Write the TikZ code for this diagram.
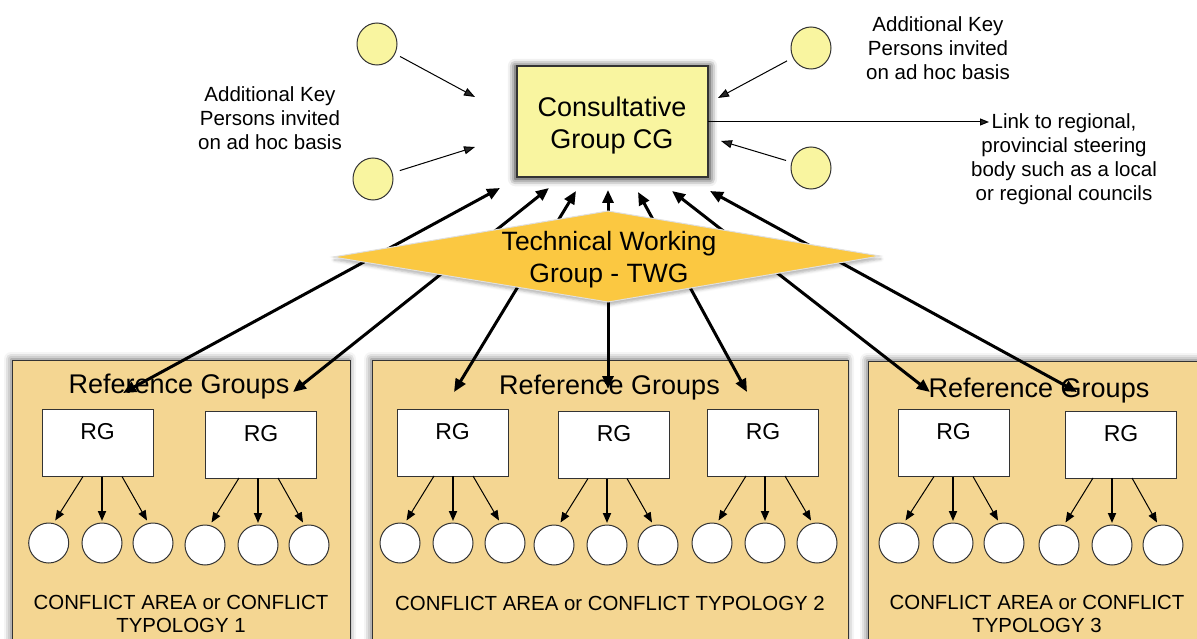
\documentclass[tikz,border=0pt]{standalone}
\usepackage{fontspec}
\setmainfont{Liberation Sans}
\usetikzlibrary{arrows.meta,calc,shadows.blur,shapes.geometric}
\definecolor{cgfill}{HTML}{F9F5A0}
\definecolor{panelfill}{HTML}{F4D692}
\definecolor{twgfill}{HTML}{FBC841}
\definecolor{edge}{HTML}{333333}
\newcommand\rggroup[7]{%
  \node[rgbox] (#1) at (#2,#3) {RG};
  \node[member] (#1a) at (#4,#7) {};
  \node[member] (#1b) at (#5,#7) {};
  \node[member] (#1c) at (#6,#7) {};
  \draw[smallarrow] ($(#1.south -| #1b)+(-19,0)$) -- ($(#1a)+(6.5,-22.5)$);
  \draw[smallarrow, line width=1.8pt] (#1.south -| #1b) -- ($(#1b)+(0,-22)$);
  \draw[smallarrow] ($(#1.south -| #1b)+(20,0)$) -- ($(#1c)+(-6,-22.5)$);
}
\begin{document}
\begin{tikzpicture}[x=1pt,y=-1pt,
  every node/.style={inner sep=0pt, outer sep=0pt},
  panel/.style={draw=edge, line width=1pt, fill=panelfill, anchor=north west,
    blur shadow={shadow xshift=-1pt, shadow yshift=1pt, shadow blur radius=7pt, shadow opacity=60}},
  rgbox/.style={draw=edge, line width=1pt, fill=white, minimum width=111pt,
    text height=30pt, text depth=37pt, font=\fontsize{23}{27}\selectfont},
  member/.style={circle, draw=edge, line width=1pt, fill=white, minimum size=40pt},
  keyp/.style={ellipse, draw=edge, line width=1pt, fill=cgfill, minimum width=40pt, minimum height=42pt},
  smallarrow/.style={line width=1pt, -{Triangle[length=10pt,width=8pt]}},
  thinarrow/.style={line width=1pt, -{Triangle[length=11pt,width=8pt]}},
  bigarrow/.style={line width=3pt, {Triangle[length=13pt,width=11pt]}-{Triangle[length=13pt,width=11pt]}},
  cgbox/.style={draw=edge, line width=1.3pt, fill=cgfill, minimum width=191pt, minimum height=111pt,
    blur shadow={shadow xshift=0pt, shadow yshift=-1pt, shadow blur radius=7pt, shadow opacity=90, shadow scale=1.02}},
  sidetext/.style={font=\fontsize{20.5}{24}\selectfont, align=center},
  reftext/.style={font=\fontsize{27}{32}\selectfont, anchor=base},
  conftext/.style={font=\fontsize{20.4}{23}\selectfont, align=center}
]
\useasboundingbox (0,0) rectangle (1197,639);
\clip (0,0) rectangle (1197,639);

% panels
\node[panel, minimum width=338pt, minimum height=300pt] (p1) at (12,360) {};
\node[panel, minimum width=476pt, minimum height=300pt] (p2) at (372,360) {};
\node[panel, minimum width=340pt, minimum height=300pt] (p3) at (868,361) {};

\node[reftext] (r1) at (179,393) {Reference Groups};
\node[reftext] (r2) at (609.5,394) {Reference Groups};
\node[reftext] (r3) at (1039,397) {Reference Groups};

\rggroup{ga}{97.5}{443}{48.7}{102}{153}{543}
\rggroup{gb}{261}{444.5}{205}{258}{309}{545}
\rggroup{gc}{452.5}{442.5}{400}{453}{505}{543}
\rggroup{gd}{614}{445}{554}{607}{658}{545}
\rggroup{ge}{763}{442.5}{712}{765}{817}{543}
\rggroup{gf}{953.5}{443}{899}{953}{1004}{543}
\rggroup{gg}{1121}{444.5}{1059}{1112}{1163}{545}

\node[conftext] (c1) at (181,614.2) {CONFLICT AREA or CONFLICT\\TYPOLOGY 1};
\node[conftext, anchor=base] (c2) at (610,610) {CONFLICT AREA or CONFLICT TYPOLOGY 2};
\node[conftext] (c3) at (1037,614.2) {CONFLICT AREA or CONFLICT\\TYPOLOGY 3};

% big double arrows
\coordinate (t1) at (500,188); \coordinate (b1) at (123,393);
\coordinate (t2) at (549,188); \coordinate (b2) at (293,392);
\coordinate (t3) at (576,191); \coordinate (b3) at (454,392);
\coordinate (t4) at (608,190); \coordinate (b4) at (608,389);
\coordinate (t5) at (638,192); \coordinate (b5) at (747,392);
\coordinate (t6) at (672,191); \coordinate (b6) at (930,392);
\coordinate (t7) at (710,191); \coordinate (b7) at (1077,392);
\foreach \i in {1,...,7} {\draw[bigarrow] (t\i) -- (b\i);}

% TWG diamond
\path[fill=twgfill, draw=gray!25, line width=1pt,
  blur shadow={shadow xshift=1pt, shadow yshift=-3pt, shadow blur radius=3pt, shadow opacity=30}]
  (333,257) -- (608,211) -- (880,256) -- (608,302) -- cycle;
\node[font=\fontsize{26.5}{32}\selectfont, align=center] (twg) at (609,259.3) {Technical Working\\Group - TWG};

% consultative group
\node[cgbox] (cg) at (612.5,121.5) {};
\node[font=\fontsize{27}{32}\selectfont, align=center] (cgt) at (612,126) {Consultative\\Group CG};

% key persons
\node[keyp] (k1) at (377,44) {};
\node[keyp] (k2) at (373,179) {};
\node[keyp] (k3) at (811,48) {};
\node[keyp] (k4) at (811,168) {};
\coordinate (a1) at (475,97);
\coordinate (a2) at (475,147);
\coordinate (a3) at (718,98);
\coordinate (a4) at (721,141);
\draw[thinarrow, shorten <=6pt] (k1) -- (a1);
\draw[thinarrow, shorten <=8pt] (k2) -- (a2);
\draw[thinarrow, shorten <=7pt] (k3) -- (a3);
\draw[thinarrow, shorten <=6pt] (k4) -- (a4);

\coordinate (lk) at (989,122);
\draw[line width=1pt, -{Triangle[length=9pt,width=7pt]}] (cg.east |- lk) -- (lk);

\node[sidetext] (kpl) at (270,118.6) {Additional Key\\Persons invited\\on ad hoc basis};
\node[sidetext] (kpr) at (938,47.7) {Additional Key\\Persons invited\\on ad hoc basis};
\node[sidetext] (lkt) at (1064,158.8) {Link to regional,\\provincial steering\\body such as a local\\or regional councils};
\end{tikzpicture}
\end{document}
